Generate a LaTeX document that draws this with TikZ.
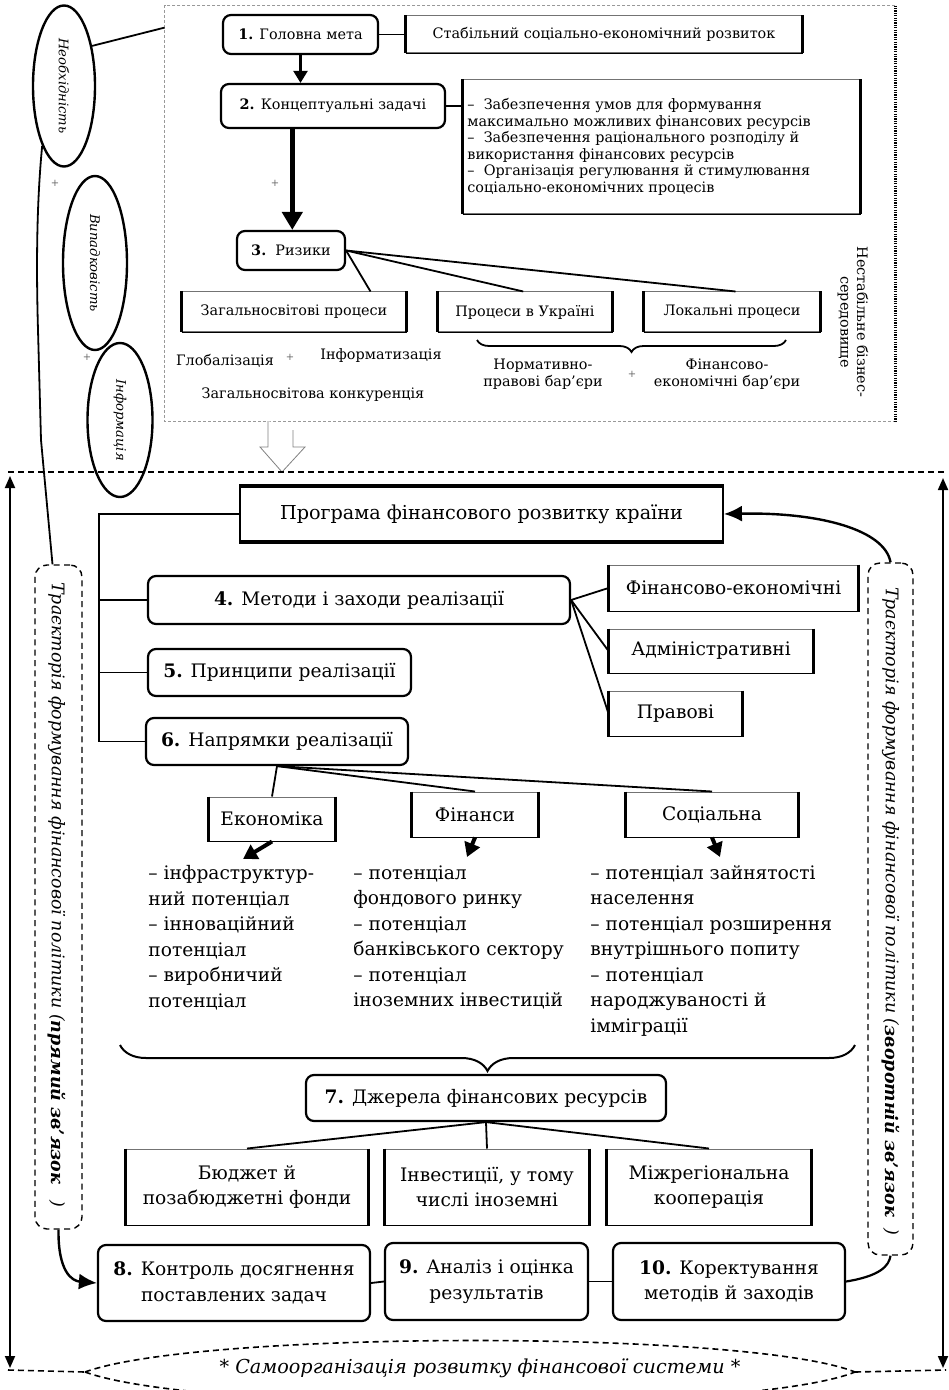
\documentclass[tikz,border=0pt]{standalone}
\usepackage{fontspec}
\setmainfont{DejaVu Serif}
\usetikzlibrary{arrows.meta,decorations.pathreplacing,shapes.geometric,calc}
\newcommand\topf{\fontsize{7.2}{8.3}\selectfont}
\newcommand\mainf{\fontsize{9.3}{12.75}\selectfont}
\newcommand\trajf{\fontsize{8.7}{10}\selectfont\itshape}
\newcommand\elf{\fontsize{6.6}{8}\selectfont\itshape}
\begin{document}
\begin{tikzpicture}[x=0.5pt,y=-0.5pt,
  sz/.style 2 args={minimum width=#1pt,minimum height=#2pt},
  numbox/.style={draw,line width=1.1pt,rounded corners=4pt,inner sep=0pt,align=center},
  plainbox/.style={draw=black!55,line width=0.5pt,inner sep=0pt,align=center},
  conn/.style={line width=0.9pt},
  ell/.style={ellipse,draw,line width=1.2pt,rotate=-90,inner sep=0pt,font=\elf},
  traj/.style={draw,dash pattern=on 3pt off 2.2pt,line width=0.7pt,rounded corners=6pt,inner sep=0pt},
  fat/.style={line width=2pt,-{Triangle[length=7pt,width=8pt]}},
  tinymark/.style={font=\fontsize{5}{5}\selectfont,text=black!60}
]
\useasboundingbox (0,0) rectangle (948,1390);

% ---------- top region ----------
\node[sz={365}{207.5},inner sep=0pt] (topreg) at (530,213.5) {};
\draw[black!40,dash pattern=on 1.5pt off 1pt,line width=0.3pt] (topreg.north east) -- (topreg.north west) -- (topreg.south west) -- (topreg.south east);
\draw[line width=1.1pt,dash pattern=on 0.6pt off 0.6pt] (topreg.north east) -- (topreg.south east);

\node[numbox,sz={77.5}{19.5},font=\topf] (n1) at (300.5,34.5) {\textbf{1.} Головна мета};
\node[plainbox,sz={198}{18.5},font=\topf] (goal) at (604,34.5) {Стабільний соціально-економічний розвиток};
\node[numbox,sz={112}{22},font=\topf] (n2) at (333,106) {\textbf{2.} Концептуальні задачі};
\node[plainbox,sz={198.5}{67}] (tasks) at (661.5,147) {};
\node[anchor=west,align=left,font=\topf,inner sep=0pt] (taskstxt) at (467,147) {–\ \ Забезпечення умов для формування\\максимально можливих фінансових ресурсів\\–\ \ Забезпечення раціонального розподілу й\\використання фінансових ресурсів\\–\ \ Організація регулювання й стимулювання\\соціально-економічних процесів};
\node[numbox,sz={54}{19.5},font=\topf] (n3) at (291,250.5) {\textbf{3.}\ \ Ризики};
\node[plainbox,sz={112}{20},font=\topf] (gp) at (294,312) {Загальносвітові процеси};
\node[plainbox,sz={87}{20},font=\topf] (ua) at (525,312) {Процеси в Україні};
\node[plainbox,sz={88}{20},font=\topf] (loc) at (732,312) {Локальні процеси};

\draw[conn] (n1.east) -- (goal.west);
\draw[line width=1.2pt,-{Triangle[length=6pt,width=7pt]}] (n1.south) -- (n2.north -| n1.south);
\draw[conn] (n2.east) -- (tasks.west |- n2.east);
\coordinate (arr2) at ($(n2.south west)!0.32!(n2.south east)$);
\draw[line width=2.6pt,-{Triangle[length=9pt,width=10pt]}] (arr2) -- (arr2 |- n3.north);
\draw[conn] (n3.east) -- ($(gp.north west)!0.84!(gp.north east)$);
\draw[conn] (n3.east) -- ($(ua.north west)!0.49!(ua.north east)$);
\draw[conn] (n3.east) -- ($(loc.north west)!0.52!(loc.north east)$);

\node[font=\topf] (glob) at (225,361) {Глобалізація};
\node[font=\topf] (infm) at (381,356) {Інформатизація};
\node[font=\topf] (konk) at (313,395) {Загальносвітова конкуренція};
\coordinate (brR) at (786,340);
\coordinate (brL) at (477,340);
\draw[line width=0.9pt,decorate,decoration={brace,amplitude=6pt}] (brR) -- (brL);
\node[font=\topf,align=center] (norm) at (543,374) {Нормативно-\\правові бар’єри};
\node[font=\topf,align=center] (finb2) at (727,374) {Фінансово-\\економічні бар’єри};
\node[font=\topf,align=center,rotate=-90] (nest) at (853,322) {Нестабільне бізнес-\\середовище};

\node[tinymark] (m1) at (275,183) {+};
\node[tinymark] (m2) at (55,183) {+};
\node[tinymark] (m3) at (87,357) {+};
\node[tinymark] (m4) at (290,357) {+};
\node[tinymark] (m5) at (632,374) {+};

% ellipses
\node[ell,minimum width=80.5pt,minimum height=31pt] (e1) at (64,86) {Необхідність};
\node[ell,minimum width=87pt,minimum height=32pt] (e2) at (95,263) {Випадковість};
\node[ell,minimum width=77pt,minimum height=32.5pt] (e3) at (120,420) {Інформація};

% hollow arrow
\draw[black!50,line width=0.4pt,fill=white] (268,421) -- (268,447) -- (260,447) -- (282,472) -- (305,447) -- (293,447) -- (293,430);

% ---------- main region ----------
\draw[line width=0.8pt,dash pattern=on 3pt off 2pt] (8,472) -- (946,472);
\coordinate (lt) at (10,476);
\coordinate (lb) at (10,1368);
\coordinate (rt) at (943,478);
\coordinate (rb) at (943,1368);
\draw[line width=0.9pt,{Triangle[length=6pt,width=5pt]}-{Triangle[length=6pt,width=5pt]}] (lt) -- (lb);
\draw[line width=0.9pt,{Triangle[length=6pt,width=5pt]}-{Triangle[length=6pt,width=5pt]}] (rt) -- (rb);

\node[draw,line width=0.9pt,inner sep=0pt,sz={241.5}{27},font=\fontsize{9.6}{12}\selectfont] (prog) at (481.5,514) {Програма фінансового розвитку країни};
\draw[line width=2.2pt] (prog.north west) -- (prog.north east);
\draw[line width=2.2pt] (prog.south west) -- (prog.south east);

\node[numbox,sz={211}{24},font=\mainf] (n4) at (359,600) {\textbf{4.} Методи і заходи реалізації};
\node[numbox,sz={131.5}{23.5},font=\mainf] (n5) at (279.5,672.5) {\textbf{5.} Принципи реалізації};
\node[numbox,sz={131}{23.5},font=\mainf] (n6) at (277,741.5) {\textbf{6.} Напрямки реалізації};

\coordinate (tr) at (99,0);
\draw[conn] (prog.west) -| (tr |- n6.west) -- (n6.west);
\draw[conn] (tr |- n4.west) -- (n4.west);
\draw[conn] (tr |- n5.west) -- (n5.west);

\node[plainbox,sz={124.5}{23},font=\mainf] (fe) at (733.5,588) {Фінансово-економічні};
\node[plainbox,sz={102}{22},font=\mainf] (adm) at (711,651) {Адміністративні};
\node[plainbox,sz={66.5}{22.5},font=\mainf] (prav) at (675.5,713.5) {Правові};
\draw[conn] (n4.east) -- (fe.west);
\draw[conn] (n4.east) -- (adm.west);
\draw[conn] (n4.east) -- (prav.west);

\node[plainbox,sz={63}{22},font=\mainf] (eco) at (272,819) {Економіка};
\node[plainbox,sz={63}{22.5},font=\mainf] (finb) at (475,814.5) {Фінанси};
\node[plainbox,sz={86}{22.5},font=\mainf] (soc) at (712,814.5) {Соціальна};
\draw[conn] (n6.south) -- (eco.north);
\draw[conn] (n6.south) -- (finb.north);
\draw[conn] (n6.south) -- (soc.north);

\coordinate (ecoA) at (243,859);
\coordinate (finA) at (467,857);
\coordinate (socA) at (720,857);
\draw[fat] (eco.south) -- (ecoA);
\draw[fat] (finb.south) -- (finA);
\draw[fat] (soc.south) -- (socA);

\node[anchor=north west,align=left,font=\mainf,inner sep=0pt] (ecol) at (148,865) {– інфраструктур-\\ний потенціал\\– інноваційний\\потенціал\\– виробничий\\потенціал};
\node[anchor=north west,align=left,font=\mainf,inner sep=0pt] (finl) at (353,865) {– потенціал\\фондового ринку\\– потенціал\\банківського сектору\\– потенціал\\іноземних інвестицій};
\node[anchor=north west,align=left,font=\mainf,inner sep=0pt] (socl) at (590,865) {– потенціал зайнятості\\населення\\– потенціал розширення\\внутрішнього попиту\\– потенціал\\народжуваності й\\імміграції};

\coordinate (bigR) at (855,1045);
\coordinate (bigL) at (120,1045);
\draw[line width=1pt,decorate,decoration={brace,amplitude=13pt}] (bigR) -- (bigL);

\node[numbox,sz={180}{23},font=\mainf] (n7) at (486,1098) {\textbf{7.} Джерела фінансових ресурсів};
\node[plainbox,sz={121}{38},font=\mainf] (bud) at (247,1187) {Бюджет й\\позабюджетні фонди};
\node[plainbox,sz={102}{38},font=\mainf] (inv) at (487,1187) {Інвестиції, у тому\\числі іноземні};
\node[plainbox,sz={102}{38},font=\mainf] (mr) at (709,1187) {Міжрегіональна\\кооперація};
\draw[conn] (n7.south) -- (bud.north);
\draw[conn] (n7.south) -- (inv.north);
\draw[conn] (n7.south) -- (mr.north);

\node[numbox,sz={136}{38},font=\mainf] (n8) at (234,1283) {\textbf{8.} Контроль досягнення\\поставлених задач};
\node[numbox,sz={101.5}{38.5},font=\mainf] (n9) at (486.5,1281.5) {\textbf{9.} Аналіз і оцінка\\результатів};
\node[numbox,sz={116}{38.5},font=\mainf] (n10) at (729,1281.5) {\textbf{10.} Коректування\\методів й заходів};
\draw[conn] (n8.east) -- (n9.west);
\draw[conn] (n9.east) -- (n10.west);

% trajectory boxes
\node[traj,sz={23.5}{332}] (ltraj) at (58.5,897) {};
\node[traj,sz={22.5}{346}] (rtraj) at (890.5,909) {};
\node[rotate=-90,font=\trajf,inner sep=0pt] (ltxt) at (57,895) {Траєкторія формування фінансової політики (\textbf{прямий зв’язок}\ \ \ )};
\node[rotate=-90,font=\trajf,inner sep=0pt] (rtxt) at (891,911) {Траєкторія формування фінансової політики (\textbf{зворотній зв’язок}\ \ )};

% connectors around
\coordinate (e1r) at (e1.145);
\draw[conn] (e1r) -- ($(topreg.north west)+(0,22)$);
\draw[conn] (e1.-20) .. controls (37,200) and (36,260) .. (38,330) -- (41,440) -- ($(ltraj.north)+(-6,0)$);
\draw[line width=1.2pt,-{Latex[length=9pt,width=8pt]}] (rtraj.north) .. controls (885,530) and (820,512) .. (prog.east);
\draw[line width=1.2pt,-{Latex[length=9pt,width=8pt]}] (ltraj.south) .. controls (58,1272) and (72,1281) .. (n8.west);
\draw[line width=1.1pt] (n10.east) .. controls (880,1276) and (889,1266) .. (rtraj.south);

% bottom banner
\coordinate (bl) at (85,1372);
\coordinate (br) at (855,1372);
\draw[line width=0.8pt,dash pattern=on 3pt off 2pt] (8,1370) -- (bl);
\draw[line width=0.8pt,dash pattern=on 3pt off 2pt] (br) -- (946,1370);
\draw[line width=0.8pt,dash pattern=on 3pt off 2pt] (bl) .. controls (200,1330) and (750,1330) .. (br);
\draw[line width=0.8pt,dash pattern=on 3pt off 2pt] (bl) .. controls (200,1414) and (750,1414) .. (br);
\node[font=\fontsize{9.6}{12}\selectfont\itshape] (self) at (480,1368) {* Самоорганізація розвитку фінансової системи *};

% box edges
\foreach \n in {goal,tasks,gp,ua,loc,fe,adm,prav,eco,finb,soc,bud,inv,mr}{
  \draw[line width=1.1pt] (\n.north west) -- (\n.south west) (\n.north east) -- (\n.south east);
  \draw[line width=0.8pt] (\n.south west) -- (\n.south east);
}
\end{tikzpicture}
\end{document}
